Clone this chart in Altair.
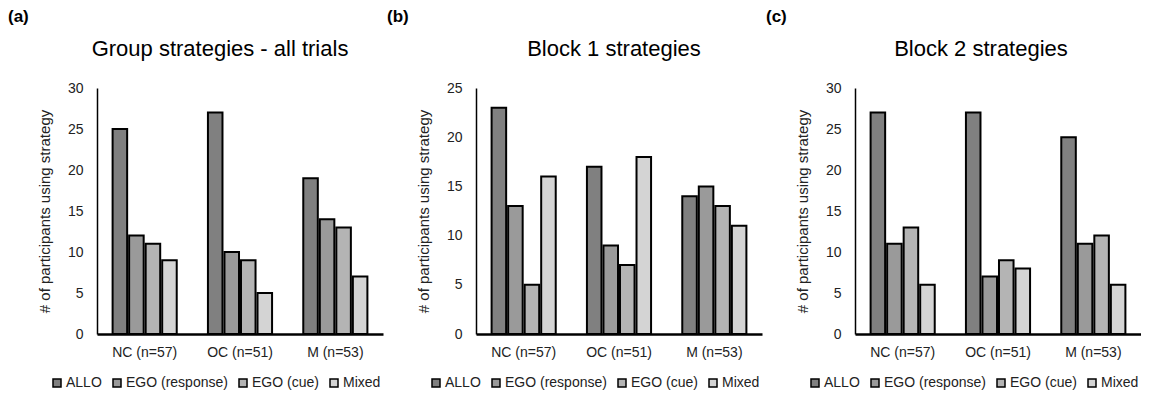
import altair as alt
import pandas as pd

groups = ["NC (n=57)", "OC (n=51)", "M (n=53)"]
strategies = ["ALLO", "EGO (response)", "EGO (cue)", "Mixed"]
colors = ["#808080", "#9a9a9a", "#b4b4b4", "#d4d4d4"]

# values per group, in strategy order
all_trials = {"NC (n=57)": [25, 12, 11, 9], "OC (n=51)": [27, 10, 9, 5], "M (n=53)": [19, 14, 13, 7]}
block1 = {"NC (n=57)": [23, 13, 5, 16], "OC (n=51)": [17, 9, 7, 18], "M (n=53)": [14, 15, 13, 11]}
block2 = {"NC (n=57)": [27, 11, 13, 6], "OC (n=51)": [27, 7, 9, 8], "M (n=53)": [24, 11, 12, 6]}

titles = ["Group strategies - all trials", "Block 1 strategies", "Block 2 strategies"]
labels = ["(a)", "(b)", "(c)"]
ymaxes = [30, 25, 30]
title_dx = [-20, -5, -17]

FONT = "Liberation Sans"
W, H = 286, 246


def panel(vals, title, label, ymax, dx):
    rows = []
    for g in groups:
        for s, v in zip(strategies, vals[g]):
            rows.append({"group": g, "strategy": s, "count": v})
    df = pd.DataFrame(rows)

    bars = alt.Chart(df).mark_bar(stroke="black", strokeWidth=2).encode(
        x=alt.X("group:N", sort=groups,
                scale=alt.Scale(paddingInner=0.31, paddingOuter=0.155),
                axis=alt.Axis(title=None, labelAngle=0, ticks=False, domainColor="black",
                              domainWidth=2.5, labelFontSize=14, labelPadding=11,
                              labelColor="#222", labelFont=FONT)),
        xOffset=alt.XOffset("strategy:N", sort=strategies,
                            scale=alt.Scale(paddingInner=0.12, paddingOuter=0.05)),
        y=alt.Y("count:Q",
                scale=alt.Scale(domain=[0, ymax], nice=False),
                axis=alt.Axis(title="# of participants using strategy",
                              values=list(range(0, ymax + 1, 5)), grid=False, ticks=False,
                              domainColor="black", domainWidth=1.5,
                              labelFontSize=14, labelPadding=14, labelColor="#222", labelFont=FONT,
                              titleFontSize=15, titleFontWeight="normal", titleFont=FONT,
                              titleColor="#222", titlePadding=15)),
        color=alt.Color("strategy:N", sort=strategies,
                        scale=alt.Scale(domain=strategies, range=colors),
                        legend=alt.Legend(title=None, orient="none", legendX=-47, legendY=288,
                                          direction="horizontal", symbolType="square",
                                          symbolSize=64, symbolStrokeColor="black",
                                          symbolStrokeWidth=1.5, labelFontSize=14,
                                          labelFont=FONT, labelColor="#222",
                                          columnPadding=8, labelOffset=2)),
    )

    lab = alt.Chart(pd.DataFrame({"t": [label]})).mark_text(
        font=FONT, fontSize=17, fontWeight="bold", align="left", baseline="middle", color="black"
    ).encode(text="t:N", x=alt.value(-89), y=alt.value(-71))

    ttl = alt.Chart(pd.DataFrame({"t": [title]})).mark_text(
        font=FONT, fontSize=22, align="center", baseline="middle", color="black"
    ).encode(text="t:N", x=alt.value(W / 2 + dx), y=alt.value(-39))

    return alt.layer(bars, lab, ttl).properties(width=W, height=H)


panels = [panel(d, t, l, m, dx) for d, t, l, m, dx in
          zip([all_trials, block1, block2], titles, labels, ymaxes, title_dx)]

chart = alt.hconcat(*panels, spacing=4).resolve_scale(color="independent").configure(
    padding=0, background="white"
).configure_view(stroke=None)

chart.save("out.html", embed_options={"renderer": "svg", "actions": False})
